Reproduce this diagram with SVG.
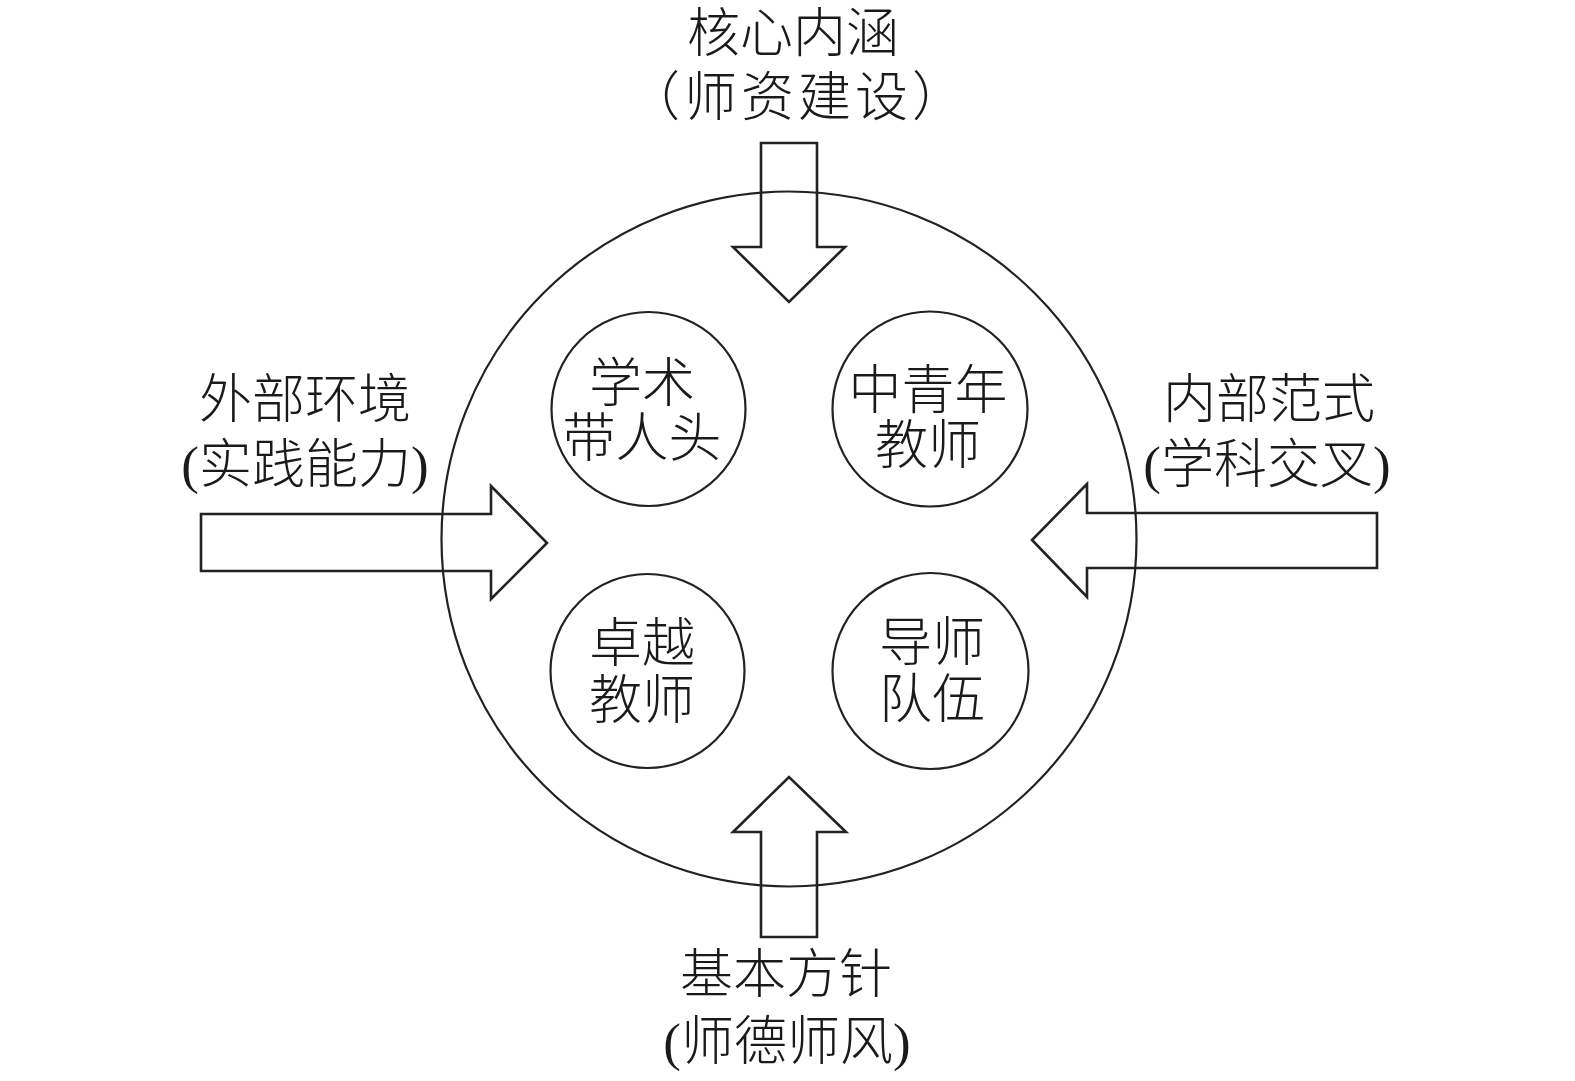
<svg xmlns="http://www.w3.org/2000/svg" width="1575" height="1081" viewBox="0 0 1575 1081">
<style>
.ln{fill:none;stroke:#222;stroke-width:2.2}
.ar{fill:none;stroke:#222;stroke-width:2.6;stroke-linejoin:miter}
text{font-family:"Liberation Serif","Noto Sans CJK SC",serif;font-size:53px;fill:#1a1a1a;text-anchor:middle;font-weight:300}
</style>
<rect width="1575" height="1081" fill="#fff"/>
<g id="outer"><circle class="ln" cx="789" cy="539" r="347.5"/></g>
<g id="n1"><circle class="ln" cx="648.5" cy="409" r="97"/><text x="642" y="402">学术</text><text x="642" y="457">带人头</text></g>
<g id="n2"><circle class="ln" cx="930" cy="409" r="97.5"/><text x="928" y="409">中青年</text><text x="928" y="464">教师</text></g>
<g id="n3"><circle class="ln" cx="647.5" cy="671" r="97"/><text x="642" y="662">卓越</text><text x="642" y="719">教师</text></g>
<g id="n4"><circle class="ln" cx="930.5" cy="671" r="98"/><text x="932" y="661">导师</text><text x="932" y="718">队伍</text></g>
<g id="connectors">
<polygon class="ar" points="761,143 817,143 817,247 845,247 789,302 733,247 761,247"/>
<polygon class="ar" points="761,937 817,937 817,832 846,832 789,777 733,832 761,832"/>
<polygon class="ar" points="201,514 491,514 491,486 547,543 491,599 491,571 201,571"/>
<polygon class="ar" points="1377,513 1087,513 1087,484 1032,540 1087,597 1087,568 1377,568"/>
</g>
<g id="top-label"><text x="793" y="52">核心内涵</text><text x="798" y="116" letter-spacing="4">（师资建设）</text></g>
<g id="left-label"><text x="305" y="418">外部环境</text><text x="305" y="483">(实践能力)</text></g>
<g id="right-label"><text x="1269" y="418">内部范式</text><text x="1267" y="483">(学科交叉)</text></g>
<g id="bottom-label"><text x="786" y="993">基本方针</text><text x="787" y="1060">(师德师风)</text></g>
</svg>
